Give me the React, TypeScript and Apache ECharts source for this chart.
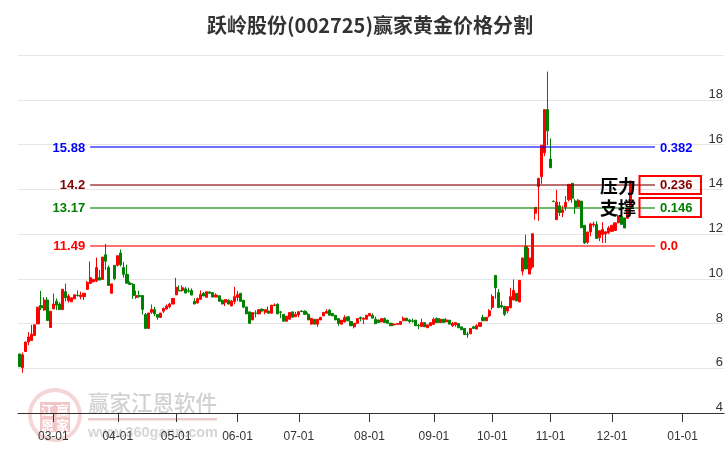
import React, { useEffect, useRef } from "react";
import * as echarts from "echarts";

const titleText = "跃岭股份(002725)赢家黄金价格分割";
const slotMonths = ["02", "03", "04", "05", "06", "07", "08", "09", "10", "11", "12", "01"];
const slotCounts = [11, 21, 19, 20, 20, 23, 21, 19, 19, 20, 23, 14];
const yTicks = { min: 4, max: 20, step: 2 };

// [open, close, low, high]
const candles: number[][] = [
  [6.64,6.07,6.07,6.64],[6.03,6.6,5.8,6.7],[6.75,7.17,6.75,7.2],[7.17,7.4,7.03,7.62],[7.24,7.52,7.24,7.94],
  [7.46,7.94,7.46,7.97],[7.98,8.73,7.98,8.73],[8.8,8.7,8.6,9.46],[8.6,9.05,8.57,9.18],[9.05,8.13,8.13,9.18],
  [7.82,8.55,7.82,8.55],[8.65,8.87,8.65,9.34],[9.0,8.82,8.6,9.12],[8.87,8.62,8.62,8.95],[8.62,9.53,8.62,9.53],
  [9.42,9.15,8.98,9.78],[9.02,9.23,8.93,9.32],[8.97,9.15,8.97,9.15],[9.1,9.28,9.1,9.3],[9.27,9.25,9.2,9.48],
  [9.2,9.27,9.08,9.42],[9.2,9.35,9.05,9.35],[9.53,9.84,9.5,9.9],[9.79,10.05,9.78,10.77],[9.86,9.97,9.84,10.0],
  [9.9,10.5,9.85,10.95],[10.05,9.94,9.94,10.4],[9.97,10.97,9.97,10.97],[11.07,10.78,10.4,11.56],[10.5,9.7,9.7,10.6],
  [9.35,9.77,9.35,9.77],[10.6,10.0,9.93,10.6],[10.6,11.03,10.55,11.03],[11.15,10.63,10.55,11.3],[10.5,10.2,10.05,10.75],
  [10.2,9.8,9.8,10.63],[9.8,9.75,9.72,9.88],[9.75,9.25,9.1,9.8],[9.17,9.25,9.1,9.47],[9.25,9.2,9.15,9.47],
  [9.25,8.63,8.4,9.25],[8.4,7.78,7.78,8.47],[7.78,8.47,7.78,8.47],[8.5,8.63,8.43,8.85],[8.62,8.43,8.33,8.75],
  [8.4,8.28,8.17,8.4],[8.27,8.47,8.27,8.47],[8.55,8.67,8.47,8.72],[8.65,8.78,8.62,8.85],[8.75,8.87,8.68,8.93],
  [8.87,9.12,8.87,9.12],[9.28,9.62,9.28,10.04],[9.48,9.45,9.45,9.7],[9.48,9.6,9.42,9.7],[9.55,9.36,9.36,9.64],
  [9.46,9.44,9.38,9.6],[9.48,9.27,9.27,9.57],[8.99,8.87,8.87,9.13],[8.92,9.11,8.89,9.16],[9.08,9.3,9.08,9.48],
  [9.35,9.23,9.23,9.41],[9.17,9.42,9.17,9.42],[9.41,9.35,9.35,9.43],[9.38,9.18,9.18,9.38],[9.18,9.27,9.18,9.35],
  [9.24,8.99,8.99,9.24],[9.04,8.87,8.86,9.08],[8.95,9.07,8.78,9.07],[9.04,8.87,8.85,9.08],[8.78,9.0,8.78,9.05],
  [8.98,9.2,8.86,9.64],[9.16,9.29,9.0,9.45],[9.35,8.99,8.99,9.35],[9.04,8.73,8.7,9.04],[8.74,8.43,8.43,8.74],
  [8.52,8.01,7.97,8.52],[8.16,8.49,8.16,8.49],[8.47,8.45,8.27,8.59],[8.43,8.62,8.43,8.62],[8.64,8.56,8.53,8.68],
  [8.5,8.62,8.41,8.62],[8.56,8.46,8.46,8.76],[8.46,8.82,8.46,8.82],[8.8,8.83,8.8,8.9],[8.86,8.43,8.43,8.9],
  [8.52,8.5,8.24,8.56],[8.41,8.1,8.1,8.41],[8.1,8.33,8.1,8.33],[8.19,8.49,8.19,8.49],[8.52,8.28,8.28,8.52],
  [8.3,8.41,8.3,8.52],[8.38,8.52,8.28,8.56],[8.56,8.53,8.52,8.59],[8.55,8.41,8.41,8.59],[8.41,8.16,8.16,8.49],
  [7.97,8.22,7.97,8.27],[8.19,7.97,7.97,8.19],[7.97,8.19,7.85,8.19],[8.16,8.27,8.16,8.3],[8.34,8.49,8.34,8.52],
  [8.46,8.54,8.46,8.64],[8.6,8.37,8.37,8.64],[8.45,8.34,8.34,8.45],[8.37,8.16,8.16,8.37],[8.22,8.0,7.9,8.22],
  [7.97,8.15,7.97,8.15],[8.07,8.27,8.05,8.37],[8.3,8.12,8.12,8.3],[8.09,7.9,7.9,8.09],[7.85,8.01,7.78,8.01],
  [8.01,8.22,7.97,8.22],[8.27,8.22,8.1,8.31],[8.19,8.24,7.97,8.27],[8.19,8.37,8.19,8.37],[8.34,8.45,8.34,8.45],
  [8.37,8.24,8.24,8.45],[8.19,7.99,7.99,8.31],[8.16,8.04,8.04,8.16],[8.07,8.22,8.07,8.22],[8.22,8.04,8.04,8.27],
  [8.15,8.01,8.01,8.15],[8.01,7.9,7.9,8.04],[7.94,7.97,7.9,8.0],[7.96,8.0,7.96,8.0],[7.96,8.09,7.96,8.09],
  [8.12,8.24,8.12,8.31],[8.24,8.12,8.12,8.24],[8.16,8.09,8.01,8.19],[8.12,8.1,8.04,8.22],[8.15,7.9,7.9,8.15],
  [7.93,7.9,7.75,7.97],[7.87,8.04,7.87,8.22],[8.04,7.85,7.85,8.04],[7.81,7.94,7.81,7.94],[7.9,8.04,7.9,8.04],
  [7.96,8.19,7.96,8.27],[8.22,8.04,8.04,8.27],[8.04,8.19,8.04,8.24],[8.19,8.04,8.04,8.19],[8.07,8.16,8.07,8.24],
  [8.15,7.97,7.97,8.15],[7.9,8.0,7.85,8.07],[7.94,8.04,7.85,8.07],[8.0,7.81,7.81,8.0],[7.85,7.72,7.72,7.85],
  [7.78,7.51,7.51,7.78],[7.52,7.5,7.36,7.63],[7.54,7.78,7.54,7.78],[7.85,7.78,7.75,7.9],[7.75,7.9,7.75,7.97],
  [7.87,8.04,7.87,8.04],[8.27,8.12,8.12,8.39],[8.12,8.28,8.12,8.28],[8.34,8.57,8.27,8.64],[8.72,9.21,8.61,9.31],
  [10.15,9.6,9.11,10.15],[9.38,8.71,8.71,9.53],[8.81,8.74,8.67,9.0],[8.76,8.41,8.34,8.79],[8.56,8.76,8.46,8.76],
  [8.71,9.2,8.67,9.6],[9.05,9.48,9.05,9.97],[9.35,9.01,9.01,9.35],[8.96,9.93,8.96,9.93],[10.34,10.93,10.15,10.93],
  [11.45,10.44,10.44,11.97],[10.21,10.93,10.21,11.38],[10.52,12.01,10.41,12.01],[12.93,13.19,12.64,13.19],[14.12,14.49,12.59,14.49],
  [14.56,15.97,14.24,15.97],[15.63,17.56,15.48,17.56],[17.56,16.61,15.97,19.26],[15.35,14.96,14.96,16.27],[13.47,13.45,13.44,13.48],
  [12.64,13.42,12.64,13.97],[13.26,12.96,12.81,13.44],[12.96,13.08,12.76,13.26],[13.2,13.42,13.05,13.7],[13.53,14.22,13.45,14.22],
  [14.27,13.6,13.4,14.27],[13.48,13.2,12.9,13.56],[13.23,13.51,13.2,13.56],[13.47,12.28,12.28,13.47],[12.39,11.6,11.55,12.39],
  [11.63,12.09,11.56,12.09],[12.09,12.45,11.9,12.5],[12.4,12.45,12.3,12.55],[12.42,11.8,11.8,12.57],[11.83,12.15,11.68,12.15],
  [11.98,12.2,11.6,12.53],[12.0,12.1,11.6,12.1],[12.05,12.27,12.0,12.35],[12.12,12.39,12.12,12.39],[12.16,12.5,12.16,12.5],
  [12.5,12.8,12.5,12.87],[12.8,12.43,12.43,12.8],[12.72,12.27,12.27,12.72],[12.7,13.17,12.7,13.17],[13.17,14.37,13.17,14.37],
];

const levelPrices = [15.88, 14.2, 13.17, 11.49];
const levelPriceTexts = ["15.88", "14.2", "13.17", "11.49"];
const levelRatios = ["0.382", "0.236", "0.146", "0.0"];
const levelColors = ["#0000ff", "#800000", "#008000", "#ff0000"];
const levelSlots = [23, 207];
const annotationTexts = ["压力", "支撑"];
const watermarkTexts = ["赢家江恩软件", "www.360gann.com"];
const sealTexts = ["江", "赢", "恩", "家"];

const categories: string[] = [];
slotMonths.forEach((m, mi) => {
  const first = mi === 0 ? 18 : 1;
  for (let k = 0; k < slotCounts[mi]; k++) {
    categories.push(`${m}-${String(first + k).padStart(2, "0")}`);
  }
});
const isMonthStart = (_: number, name: string) => name.endsWith("-01");

const FONT = "'Liberation Sans', Arial, sans-serif";
const CJK = "'Noto Sans CJK SC', sans-serif";

export default function App() {
  const ref = useRef<HTMLDivElement>(null);
  useEffect(() => {
    const chart = echarts.init(ref.current!, undefined, { renderer: "svg" });
    const markData: any[] = [];
    levelPrices.forEach((p, i) => {
      const c = levelColors[i];
      const lab = { show: true, color: c, fontWeight: "bold", fontSize: 13, fontFamily: FONT };
      markData.push([
        { xAxis: levelSlots[0], yAxis: p, lineStyle: { color: c + "bf", width: 1.7, type: "solid" }, label: { ...lab, position: "start", distance: 5, formatter: levelPriceTexts[i] } },
        { xAxis: levelSlots[1], yAxis: p },
      ]);
      markData.push([
        { xAxis: levelSlots[0], yAxis: p, lineStyle: { color: "rgba(255,255,255,0)", width: 1 }, label: { ...lab, position: "end", distance: 5, formatter: levelRatios[i] } },
        { xAxis: levelSlots[1], yAxis: p },
      ]);
    });
    const sealCells = [[47.5, 409.5], [62.5, 409.5], [47.5, 424.5], [62.5, 424.5]];
    chart.setOption({
      animation: false,
      title: {
        text: titleText,
        left: 365,
        top: 9,
        textAlign: "center",
        textStyle: { fontFamily: CJK, fontSize: 20, fontWeight: "bold", color: "#333" },
      },
      grid: { left: 18, right: 2, top: 55, bottom: 37 },
      xAxis: {
        type: "category",
        data: categories,
        boundaryGap: true,
        axisLine: { show: true, lineStyle: { color: "#333", width: 1 } },
        axisTick: { show: true, interval: isMonthStart, alignWithLabel: true, length: 9, lineStyle: { color: "#333", width: 1 } },
        axisLabel: { interval: isMonthStart, color: "#333", fontSize: 12, fontFamily: FONT, margin: 17 },
        splitLine: { show: false },
      },
      yAxis: {
        type: "value",
        position: "right",
        min: yTicks.min,
        max: yTicks.max,
        interval: yTicks.step,
        axisLine: { show: false },
        axisTick: { show: false },
        axisLabel: {
          inside: true,
          margin: 1,
          showMaxLabel: false,
          verticalAlign: "bottom",
          color: "#333",
          fontSize: 13,
          fontFamily: FONT,
        },
        splitLine: { lineStyle: { color: "#e6e6e6", width: 1 } },
      },
      series: [
        {
          type: "candlestick",
          data: candles,
          barWidth: 2.6,
          itemStyle: { color: "#ff0000", color0: "#008000", borderColor: "#ff0000", borderColor0: "#008000", borderWidth: 1 },
          markLine: { silent: true, symbol: "none", animation: false, data: markData },
        },
      ],
      graphic: [
        { type: "circle", z: 0, shape: { cx: 55, cy: 415, r: 25 }, style: { fill: "none", stroke: "#f5d6d6", lineWidth: 4 } },
        { type: "rect", z: 0, shape: { x: 40, y: 402, width: 30, height: 30 }, style: { fill: "#f2c6c6" } },
        ...sealTexts.map((t, i) => ({
          type: "text",
          z: 0,
          x: sealCells[i][0],
          y: sealCells[i][1],
          style: { text: t, fill: "#ffffff", font: `bold 13px ${CJK}`, align: "center", verticalAlign: "middle" },
        })),
        { type: "text", z: 0, x: 88, y: 401, style: { text: watermarkTexts[0], fill: "#d2d2d2", font: `500 21.5px ${CJK}`, verticalAlign: "middle" } },
        { type: "rect", z: 0, shape: { x: 88, y: 418, width: 129, height: 2.5 }, style: { fill: "#eccaca" } },
        { type: "text", z: 0, x: 88, y: 432, style: { text: watermarkTexts[1], fill: "#d6d6d6", font: `bold 14.5px ${FONT}`, verticalAlign: "middle" } },
        { type: "rect", z: 10, shape: { x: 639.5, y: 176, width: 61.5, height: 18 }, style: { fill: "none", stroke: "#ff0000", lineWidth: 2 } },
        { type: "rect", z: 10, shape: { x: 639.5, y: 198, width: 61.5, height: 19 }, style: { fill: "none", stroke: "#ff0000", lineWidth: 2 } },
        { type: "text", z: 10, x: 600, y: 185, style: { text: annotationTexts[0], fill: "#000", font: `bold 18px ${CJK}`, verticalAlign: "middle" } },
        { type: "text", z: 10, x: 600, y: 207, style: { text: annotationTexts[1], fill: "#000", font: `bold 18px ${CJK}`, verticalAlign: "middle" } },
      ],
    });
    return () => chart.dispose();
  }, []);
  return <div ref={ref} style={{ position: "fixed", left: 0, top: 0, width: 726, height: 450 }} />;
}
